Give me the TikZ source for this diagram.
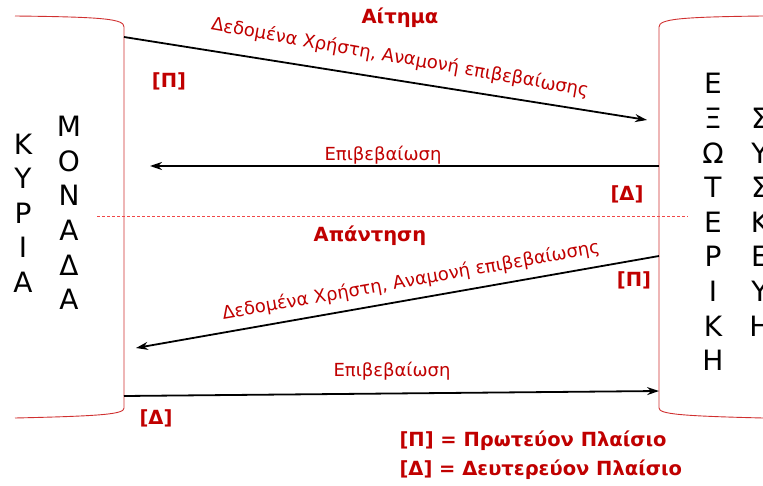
\documentclass[tikz,border=0pt]{standalone}
\usepackage{fontspec}
\setmainfont{DejaVu Sans}
\usetikzlibrary{arrows.meta,positioning,calc}
\definecolor{darkred}{HTML}{C00000}
\definecolor{edgered}{HTML}{D03030}
\definecolor{dashred}{HTML}{F04848}

\begin{document}
\begin{tikzpicture}[x=1pt, y=-1pt, >={Stealth[length=12pt,width=8pt]},
    msg/.style={->, line width=1.8pt},
    lbl/.style={text=darkred, font=\fontsize{18}{20}\selectfont},
    tag/.style={text=darkred, font=\bfseries\fontsize{19.5}{22}\selectfont},
    big/.style={align=center, font=\fontsize{28}{34.6}\selectfont}]
  \useasboundingbox (0,0) rectangle (763,486);

  % the two units
  \draw[edgered, line width=0.9pt] (15,16) .. controls (105,17) and (124,19) .. (124,27) -- (124,408)
    .. controls (124,414) and (105,416) .. (15,418);
  \draw[edgered, line width=0.9pt] (763,16) .. controls (680,17) and (659,19) .. (659,27) -- (659,408)
    .. controls (659,414) and (680,416) .. (763,418);

  \node[big] (kyria) at (23,213) {Κ\\Υ\\Ρ\\Ι\\Α};
  \node[big] (monada) at (69,213) {Μ\\Ο\\Ν\\Α\\Δ\\Α};
  \node[big] (exoteriki) at (713,222) {Ε\\Ξ\\Ω\\Τ\\Ε\\Ρ\\Ι\\Κ\\Η};
  \node[big] (syskevi) at (760,222) {Σ\\Υ\\Σ\\Κ\\Ε\\Υ\\Η};

  % arrow end points on the units
  \coordinate (a1) at (124,37);  \coordinate (b1) at (647,120);
  \coordinate (a2) at (659,166); \coordinate (b2) at (150,166);
  \coordinate (a3) at (659,256); \coordinate (b3) at (136,348);
  \coordinate (a4) at (124,396); \coordinate (b4) at (659,391);

  % request
  \node[tag] (aitima) at (400,18) {Αίτημα};
  \draw[msg] (a1) -- (b1);
  \node[lbl, rotate=-10] (data1) at (400,58) {Δεδομένα Χρήστη, Αναμονή επιβεβαίωσης};
  \node[tag] (p1) at (169,81) {[Π]};
  \draw[msg] (a2) -- (b2);
  \node[lbl] (conf1) at (383,155) {Επιβεβαίωση};
  \node[tag] (d1) at (627,194) {[Δ]};

  \coordinate (sepl) at (97,217); \coordinate (sepr) at (688,217);
  \draw[dashred, line width=1pt, dash pattern=on 3pt off 2pt] (sepl) -- (sepr);

  % response
  \node[tag] (apantisi) at (370,236) {Απάντηση};
  \draw[msg] (a3) -- (b3);
  \node[lbl, rotate=10] (data2) at (411,281) {Δεδομένα Χρήστη, Αναμονή επιβεβαίωσης};
  \node[tag] (p2) at (634,280) {[Π]};
  \draw[msg] (a4) -- (b4);
  \node[lbl] (conf2) at (392,371) {Επιβεβαίωση};
  \node[tag] (d2) at (156,418) {[Δ]};

  % legend
  \node[tag, anchor=west] (leg1) at (396,441) {[Π] = Πρωτεύον Πλαίσιο};
  \node[tag, anchor=west] (leg2) at (396,470) {[Δ] = Δευτερεύον Πλαίσιο};
\end{tikzpicture}
\end{document}
